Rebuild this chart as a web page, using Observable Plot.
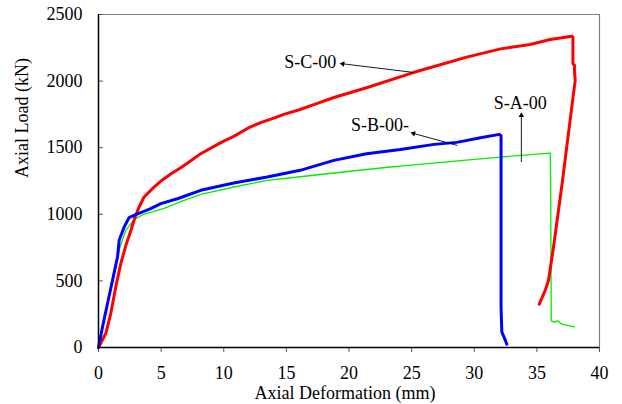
<!DOCTYPE html>
<html>
<head>
<meta charset="utf-8">
<script src="https://cdn.jsdelivr.net/npm/d3@7"></script>
<script src="https://cdn.jsdelivr.net/npm/@observablehq/plot@0.6"></script>
<style>
  html, body { margin: 0; padding: 0; background: #fff; }
  #chart svg { display: block; }
</style>
</head>
<body>
<div id="chart"></div>
<script>
// Load–deformation curves of three specimens (axial deformation in mm, axial load in kN)
const scDef  = [0, 0.58, 0.98, 1.38, 1.78, 2.18, 2.58, 2.92, 3.24, 3.64, 4.3, 5.1, 5.8, 6.6, 8.16, 9.8, 10.8, 12.1, 13.0, 14.0, 14.8, 16.1, 17.7, 18.8, 21.4, 25.2, 29.4, 32.1, 34.47, 36.07, 37.8, 37.88, 37.88, 38.0, 38.0, 38.06, 37.45, 37.05, 36.33, 35.93, 35.67, 35.19];
const scLoad = [0, 105, 255, 455, 630, 765, 877, 980, 1055, 1130, 1192, 1258, 1305, 1352, 1455, 1540, 1585, 1655, 1690, 1722, 1750, 1787, 1840, 1877, 1950, 2066, 2180, 2242, 2275, 2312, 2337, 2330, 2130, 2120, 2080, 2005, 1555, 1255, 755, 505, 430, 325];

const sbDef  = [0, 0.32, 0.72, 1.12, 1.52, 1.65, 2.05, 2.44, 2.84, 3.37, 4.17, 4.97, 6.3, 8.16, 10.8, 13.47, 16.1, 18.79, 21.4, 24.1, 26.8, 28.6, 30.5, 32.0, 32.14, 32.14, 32.2, 32.48, 32.6];
const sbLoad = [0, 155, 330, 505, 680, 805, 905, 975, 992, 1012, 1042, 1080, 1117, 1180, 1235, 1280, 1330, 1405, 1455, 1487, 1525, 1540, 1575, 1600, 1590, 300, 117, 55, 25];

const saDef  = [0, 0.58, 1.12, 1.72, 2.18, 2.84, 3.6, 5.23, 6.56, 8.16, 10.8, 13.47, 16.1, 18.79, 23.3, 24.1, 28.0, 32.08, 36.07, 36.1, 36.15, 36.4, 36.65, 37.0, 38.0];
const saLoad = [0, 255, 505, 755, 880, 960, 1000, 1045, 1095, 1150, 1205, 1255, 1282, 1310, 1355, 1362, 1395, 1430, 1460, 1200, 200, 190, 200, 175, 155];

const xTicks = [0, 5, 10, 15, 20, 25, 30, 35, 40];
const yTicks = [0, 500, 1000, 1500, 2000, 2500];

// Series labels with arrow pointers (label position, arrow tail, arrow head)
const labelNames = ["S-C-00", "S-B-00-", "S-A-00"];
const labelX = [16.9, 22.47, 33.68];
const labelY = [2140, 1667, 1832];
const arrowX1 = [25.15, 28.65, 33.76];
const arrowY1 = [2065, 1517, 1392];
const arrowX2 = [19.5, 25.15, 33.76];
const arrowY2 = [2130, 1607, 1742];

const W = 622, H = 404, mt = 14, mb = 57, ml = 98, mr = 23;
const xDomain = [0, 40], yDomain = [0, 2500];
// pixels per unit, used to orient the filled arrow heads along each pointer
const kx = (W - ml - mr) / (xDomain[1] - xDomain[0]);
const ky = (H - mt - mb) / (yDomain[1] - yDomain[0]);

const toRows = (xs, ys) => xs.map((x, i) => ({x, y: ys[i]}));
const sa = toRows(saDef, saLoad);
const sb = toRows(sbDef, sbLoad);
const sc = toRows(scDef, scLoad);
const labels = labelNames.map((t, i) => ({t, x: labelX[i], y: labelY[i]}));
const arrows = labelNames.map((t, i) => {
  const dx = (arrowX2[i] - arrowX1[i]) * kx;
  const dy = -(arrowY2[i] - arrowY1[i]) * ky;
  const angle = Math.atan2(dx, -dy) * 180 / Math.PI;
  return {x1: arrowX1[i], y1: arrowY1[i], x2: arrowX2[i], y2: arrowY2[i], angle};
});

const font = "'Liberation Serif', 'Times New Roman', serif";

const chart = Plot.plot({
  width: W,
  height: H,
  marginTop: mt,
  marginBottom: mb,
  marginLeft: ml,
  marginRight: mr,
  style: {fontFamily: font, fontSize: "18px", color: "#000", background: "#fff", overflow: "visible"},
  x: {domain: xDomain},
  y: {domain: yDomain},
  marks: [
    // plot frame: grey top/right, black axes
    Plot.ruleY([2500], {stroke: "#808080", strokeWidth: 1.2}),
    Plot.ruleX([40], {stroke: "#808080", strokeWidth: 1.2}),
    // inward y ticks
    Plot.ruleY(yTicks, {x1: 0, x2: 0.4, stroke: "#555", strokeWidth: 1}),
    Plot.axisY({ticks: yTicks, tickFormat: "d", tickSize: 0, tickPadding: 16, label: null, fontSize: 18}),
    Plot.axisX({ticks: xTicks, tickFormat: "d", tickSize: 5, tickPadding: 14, label: null, stroke: "#555", fontSize: 18}),
    Plot.text(["Axial Load (kN)"], {frameAnchor: "left", lineAnchor: "middle", rotate: -90, dx: -76, dy: -3, fontSize: 18}),
    Plot.text(["Axial Deformation (mm)"], {frameAnchor: "bottom", lineAnchor: "middle", dy: 46, dx: -4, fontSize: 18}),
    // curves
    Plot.line(sa, {x: "x", y: "y", stroke: "#00ee00", strokeWidth: 1.3}),
    Plot.line(sc, {x: "x", y: "y", stroke: "#ff0000", strokeWidth: 3}),
    Plot.line(sb, {x: "x", y: "y", stroke: "#0000ff", strokeWidth: 3}),
    Plot.ruleX([0], {stroke: "#000", strokeWidth: 1.5}),
    Plot.ruleY([0], {stroke: "#000", strokeWidth: 1.5}),
    // annotations
    Plot.link(arrows, {x1: "x1", y1: "y1", x2: "x2", y2: "y2", stroke: "#000", strokeWidth: 0.9}),
    Plot.dot(arrows, {x: "x2", y: "y2", symbol: "triangle2", r: 2.6, fill: "#000", stroke: null, rotate: "angle"}),
    Plot.text(labels, {x: "x", y: "y", text: "t", fontSize: 18, fill: "#000"})
  ]
});

document.getElementById("chart").appendChild(chart);
</script>
</body>
</html>
